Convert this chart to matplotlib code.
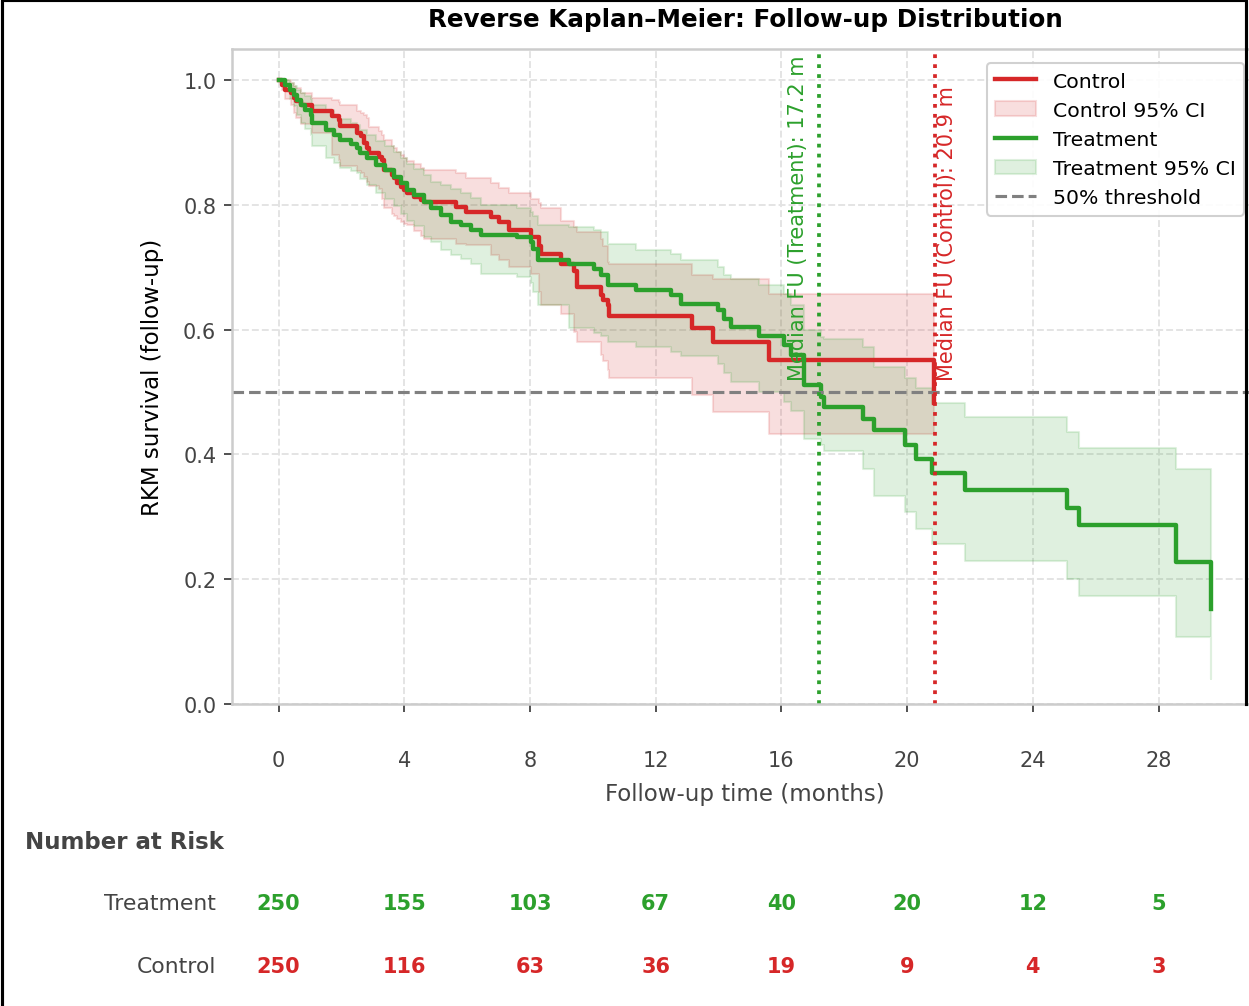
import numpy as np
import matplotlib.pyplot as plt
from matplotlib.lines import Line2D
from matplotlib.transforms import blended_transform_factory

# ---- data ----
# Treatment arm: step times (months), RKM survival, 95% CI
trt_time = [0.0, 0.22, 0.35, 0.48, 0.6, 0.72, 0.85, 1.02, 1.07, 1.5, 1.76, 1.97, 2.29, 2.5, 2.6,
            2.82, 3.09, 3.4, 3.67, 3.89, 4.1, 4.31, 4.63, 4.84, 5.16, 5.48, 5.8, 6.11, 6.43, 7.6,
            8.03, 8.08, 8.24, 9.25, 10.04, 10.25, 10.47, 11.37, 12.48, 12.8, 13.97, 14.18, 14.39,
            15.3, 16.09, 16.3, 16.73, 17.26, 17.37, 18.59, 18.96, 19.94, 20.29, 20.8, 21.83,
            25.1, 25.48, 28.57, 29.68]
trt_surv = [1.0, 0.992, 0.984, 0.976, 0.968, 0.96, 0.952, 0.944, 0.931, 0.92, 0.912, 0.904, 0.897,
            0.892, 0.883, 0.875, 0.864, 0.856, 0.845, 0.835, 0.824, 0.816, 0.805, 0.795, 0.784,
            0.773, 0.768, 0.76, 0.752, 0.748, 0.741, 0.73, 0.712, 0.705, 0.698, 0.688, 0.672,
            0.663, 0.655, 0.641, 0.631, 0.618, 0.605, 0.59, 0.575, 0.559, 0.511, 0.492, 0.476,
            0.457, 0.439, 0.415, 0.393, 0.37, 0.343, 0.314, 0.287, 0.228, 0.152]
trt_lower = [1.0, 0.985, 0.97, 0.958, 0.945, 0.932, 0.922, 0.912, 0.894, 0.875, 0.868, 0.86, 0.855,
             0.851, 0.842, 0.832, 0.82, 0.81, 0.798, 0.786, 0.775, 0.766, 0.748, 0.74, 0.728,
             0.72, 0.714, 0.705, 0.69, 0.685, 0.675, 0.66, 0.64, 0.602, 0.595, 0.59, 0.58,
             0.572, 0.565, 0.558, 0.545, 0.53, 0.516, 0.5, 0.484, 0.47, 0.425, 0.415, 0.405,
             0.377, 0.333, 0.308, 0.281, 0.257, 0.23, 0.2, 0.173, 0.108, 0.04]
trt_upper = [1.0, 1.0, 0.995, 0.99, 0.985, 0.98, 0.975, 0.97, 0.96, 0.952, 0.945, 0.938, 0.932,
             0.928, 0.92, 0.912, 0.902, 0.895, 0.885, 0.876, 0.866, 0.858, 0.848, 0.837, 0.832,
             0.825, 0.819, 0.812, 0.8, 0.795, 0.789, 0.782, 0.768, 0.765, 0.76, 0.757, 0.738,
             0.728, 0.722, 0.712, 0.701, 0.687, 0.682, 0.671, 0.658, 0.64, 0.6, 0.589, 0.585,
             0.573, 0.54, 0.522, 0.506, 0.482, 0.46, 0.436, 0.41, 0.377, 0.377]

# Control arm
ctl_time = [0.0, 0.12, 0.22, 0.38, 0.49, 0.54, 0.7, 1.07, 1.71, 1.92, 1.97, 2.5, 2.61, 2.72, 2.82,
            2.88, 3.2, 3.3, 3.35, 3.62, 3.67, 3.78, 3.89, 3.99, 4.1, 4.31, 4.52, 4.63, 5.64, 5.96,
            6.75, 7.02, 7.33, 8.03, 8.29, 8.34, 8.98, 9.4, 9.51, 10.25, 10.31, 10.47, 10.52,
            13.17, 13.81, 15.61, 20.85]
ctl_surv = [1.0, 0.993, 0.984, 0.979, 0.971, 0.966, 0.96, 0.95, 0.942, 0.936, 0.926, 0.915, 0.91,
            0.899, 0.891, 0.883, 0.877, 0.872, 0.856, 0.848, 0.843, 0.835, 0.829, 0.824, 0.819,
            0.813, 0.808, 0.805, 0.797, 0.789, 0.781, 0.773, 0.76, 0.749, 0.735, 0.722, 0.706,
            0.694, 0.669, 0.655, 0.647, 0.639, 0.622, 0.602, 0.581, 0.551, 0.482]
ctl_lower = [1.0, 0.985, 0.97, 0.96, 0.948, 0.94, 0.93, 0.915, 0.88, 0.872, 0.862, 0.855, 0.851,
             0.845, 0.837, 0.83, 0.825, 0.81, 0.795, 0.785, 0.782, 0.778, 0.773, 0.77, 0.768,
             0.758, 0.75, 0.746, 0.738, 0.736, 0.72, 0.712, 0.7, 0.69, 0.66, 0.64, 0.625, 0.597,
             0.58, 0.56, 0.55, 0.535, 0.522, 0.495, 0.468, 0.433, 0.433]
ctl_upper = [1.0, 1.0, 1.0, 0.995, 0.99, 0.988, 0.98, 0.972, 0.968, 0.965, 0.96, 0.95, 0.947,
             0.944, 0.94, 0.925, 0.918, 0.912, 0.904, 0.895, 0.891, 0.885, 0.88, 0.875, 0.87,
             0.866, 0.86, 0.856, 0.851, 0.843, 0.835, 0.828, 0.819, 0.81, 0.803, 0.795, 0.774,
             0.765, 0.757, 0.745, 0.735, 0.709, 0.705, 0.687, 0.682, 0.658, 0.658]

median_trt = 17.2
median_ctl = 20.9

risk_times = [0, 4, 8, 12, 16, 20, 24, 28]
risk_trt = [250, 155, 103, 67, 40, 20, 12, 5]
risk_ctl = [250, 116, 63, 36, 19, 9, 4, 3]

red = '#d62728'
green = '#2ca02c'
grey_txt = '#444444'

fig = plt.figure(figsize=(1249 / 150, 1007 / 150), dpi=150)
ax = fig.add_axes([0.1857, 0.2999, 0.8215, 0.6504])

# confidence bands
ax.fill_between(ctl_time, ctl_lower, ctl_upper, step='post', color=red, alpha=0.15)
ax.fill_between(trt_time, trt_lower, trt_upper, step='post', color=green, alpha=0.15)
# curves
ax.step(ctl_time, ctl_surv, where='post', color=red, lw=2.1)
ax.step(trt_time, trt_surv, where='post', color=green, lw=2.1)

ax.axhline(0.5, color='#808080', ls='--', lw=1.5)
ax.axvline(median_trt, color=green, ls=':', lw=1.8)
ax.axvline(median_ctl, color=red, ls=':', lw=1.8)
ax.text(median_trt - 0.35, 0.52, f"Median FU (Treatment): {median_trt} m", rotation=90,
        color=green, fontsize=10, ha='right', va='bottom')
ax.text(median_ctl + 0.05, 0.52, f"Median FU (Control): {median_ctl} m", rotation=90,
        color=red, fontsize=10, ha='left', va='bottom')

ax.set_xlim(-1.484, 31.164)
ax.set_ylim(0, 1.05)
ax.set_xticks(risk_times)
ax.set_yticks([0.0, 0.2, 0.4, 0.6, 0.8, 1.0])
ax.set_yticklabels(['0.0', '0.2', '0.4', '0.6', '0.8', '1.0'])
ax.tick_params(axis='both', labelsize=10, labelcolor=grey_txt, color='#333333', length=4)
ax.tick_params(axis='x', pad=18)
ax.grid(True, ls='--', color='#e3e3e3', lw=0.9)
ax.set_axisbelow(True)
for s in ax.spines.values():
    s.set_color('#cccccc')
    s.set_linewidth(1.2)

ax.set_xlabel("Follow-up time (months)", fontsize=11, color=grey_txt, labelpad=6)
ax.set_ylabel("RKM survival (follow-up)", fontsize=11, color='black', labelpad=9)
ax.set_title("Reverse Kaplan\u2013Meier: Follow-up Distribution", fontsize=11.8,
             fontweight='bold', pad=11)

handles = [Line2D([], [], color=red, lw=2.1),
           plt.Rectangle((0, 0), 1, 1, fc=red, alpha=0.15, ec=red),
           Line2D([], [], color=green, lw=2.1),
           plt.Rectangle((0, 0), 1, 1, fc=green, alpha=0.15, ec=green),
           Line2D([], [], color='#808080', ls='--', lw=1.5)]
labels = ['Control', 'Control 95% CI', 'Treatment', 'Treatment 95% CI', '50% threshold']
ax.legend(handles, labels, loc='upper right', fontsize=9.8, framealpha=0.9, edgecolor='#cccccc',
          borderaxespad=0.7)

# number at risk table
tr = blended_transform_factory(ax.transData, fig.transFigure)
fig.text(0.02, 0.163, "Number at Risk", fontsize=11, fontweight='bold', color=grey_txt,
         va='center', ha='left')
fig.text(0.173, 0.1023, "Treatment", fontsize=10.5, color=grey_txt, ha='right', va='center')
fig.text(0.173, 0.0397, "Control", fontsize=10.5, color=grey_txt, ha='right', va='center')
for t, n in zip(risk_times, risk_trt):
    ax.text(t, 0.1023, str(n), transform=tr, color=green, fontsize=10, fontweight='bold',
            ha='center', va='center')
for t, n in zip(risk_times, risk_ctl):
    ax.text(t, 0.0397, str(n), transform=tr, color=red, fontsize=10, fontweight='bold',
            ha='center', va='center')

# black frame around the picture
fig.add_artist(Line2D([0.0016, 0.0016, 0.9976, 0.9976], [0.0, 0.999, 0.999, 0.3],
                      transform=fig.transFigure, color='black', lw=1.5))

fig.savefig('out.png', dpi=150)
